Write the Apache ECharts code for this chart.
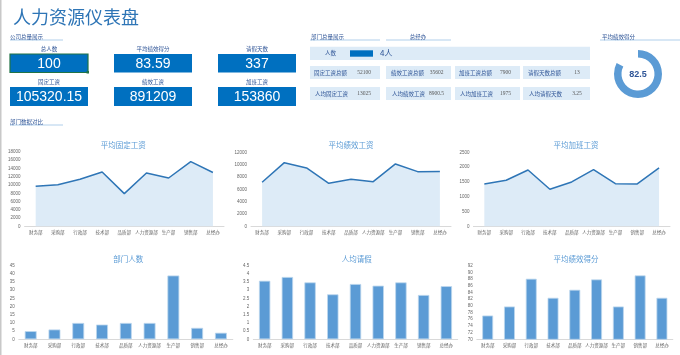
<!DOCTYPE html>
<html><head><meta charset="utf-8">
<script src="https://cdn.jsdelivr.net/npm/echarts@6/dist/echarts.min.js"></script>
<style>html,body{margin:0;padding:0;background:#fff}#c{width:680px;height:355px}</style>
</head><body><div id="c"></div>
<script>
const departments = ['财务部','采购部','行政部','技术部','品质部','人力资源部','生产部','销售部','总经办'];
const avgFixedSalary = [9700,10090,11380,13160,7910,12910,11700,15660,13025];
const avgPerfSalary = [7140,10320,9460,6970,7620,7240,10110,8860,8900.5];
const avgOvertimePay = [1430,1554,1903,1250,1498,1914,1441,1430,1975];
const deptHeadcount = [5,6,10,9,10,10,39,7,4];
const avgLeaveDays = [3.58,3.81,3.48,2.75,3.38,3.28,3.48,2.71,3.25];
const avgPerfScore = [77.1,79.8,88.1,82.4,84.8,87.9,79.8,89.1,82.4];
const chartTitles = ['平均固定工资','平均绩效工资','平均加班工资','部门人数','人均请假','平均绩效得分'];
const kpiLabels = ['总人数','平均绩效得分','请假天数','固定工资','绩效工资','加班工资'];
const kpiValues = ['100','83.59','337','105320.15','891209','153860'];
const selectedDept = '总经办';
const deptCount = [4];
const deptTotalLabels = ['固定工资总额','绩效工资总额','加班工资总额','请假天数总额'];
const deptTotalValues = ['52100','35602','7900','13'];
const deptAvgLabels = ['人均固定工资','人均绩效工资','人均加班工资','人均请假天数'];
const deptAvgValues = ['13025','8900.5','1975','3.25'];
const gaugeScore = [82.5];

const CJK = "'Noto Sans CJK SC', sans-serif";
const NUM = "'Liberation Sans', Arial, sans-serif";
const darkBlue = '#2F5597';
const g = [];
function T(x,y,s,font,fill,align){g.push({type:'text',x:x,y:y,z:10,style:{text:s,font:font,fill:fill,align:align||'left',verticalAlign:'middle'}});}
function R(x,y,w,h,fill,stroke,lw){g.push({type:'rect',z:1,shape:{x:x,y:y,width:w,height:h},style:{fill:fill,stroke:stroke||null,lineWidth:lw||0}});}
function L(x1,y1,x2,y2,c,w){g.push({type:'line',z:2,shape:{x1:x1,y1:y1,x2:x2,y2:y2},style:{stroke:c,lineWidth:w||1}});}

// frame
R(0,0,1.5,355,'#c8c8c8');
// title
T(13,17,'人力资源仪表盘','18px '+CJK,'#2E75B6');
// section headers
T(10,36.5,'公司总量展示','5.5px '+CJK,darkBlue); L(10,40,63,40,'#9DC3E6',0.8);
T(311,36.5,'部门总量展示','5.5px '+CJK,darkBlue); L(310,40,380,40,'#9DC3E6',0.8);
T(418,37,selectedDept,'5.5px '+CJK,darkBlue,'center'); L(386,40,451,40,'#9DC3E6',0.8);
T(602,37,'平均绩效得分','5.5px '+CJK,darkBlue); L(600,40,680,40,'#9DC3E6',0.8);
T(10,121.5,'部门数据对比','5.5px '+CJK,darkBlue); L(10,125,63,125,'#9DC3E6',0.8);

// KPI boxes
const boxX = [10,114,218];
const rowY = [[49.3,54,18.5],[81.7,87,19]];
for(let i=0;i<6;i++){
  const c=i%3, r=Math.floor(i/3);
  const bx=boxX[c], by=rowY[r][1], bh=rowY[r][2];
  T(bx+39,rowY[r][0],kpiLabels[i],'5.5px '+CJK,darkBlue,'center');
  if(i===0){R(bx,by,78,bh,'#0070C0','#217346',1.2);R(bx+76.5,by+bh-1.5,2.5,2.5,'#217346');}
  else R(bx,by,78,bh,'#0070C0');
  T(bx+39,by+bh/2+0.5,kpiValues[i],'14px '+NUM,'#ffffff','center');
}

// department band
R(310,46.7,280,13.3,'#DDEBF7');
T(325,53,'人数','5.5px '+CJK,darkBlue);
T(380,53,deptCount[0]+'人','8px '+CJK,darkBlue);
const dbx=[[310,70,314,364],[386,65,391,436.5],[455,65,459,505.5],[523,67,528,577]];
for(let i=0;i<4;i++){
  R(dbx[i][0],66,dbx[i][1],13,'#DDEBF7');
  T(dbx[i][2],72.5,deptTotalLabels[i],'5.5px '+CJK,darkBlue);
  T(dbx[i][3],72.5,deptTotalValues[i],'5.5px '+"'Liberation Serif', serif",'#595959','center');
  R(dbx[i][0],87,dbx[i][1],13,'#DDEBF7');
  T(dbx[i][2]+1,93.5,deptAvgLabels[i],'5.5px '+CJK,darkBlue);
  T(dbx[i][3],93.5,deptAvgValues[i],'5.5px '+"'Liberation Serif', serif",'#595959','center');
}
// gauge text
T(638,74.5,String(gaugeScore[0]),'bold 9px '+NUM,darkBlue,'center');

// charts
const grids = [
  {left:24.6,top:152,width:199.4,height:74.3},
  {left:251,top:152.3,width:200,height:74},
  {left:473.4,top:152.3,width:196.6,height:74},
  {left:18.8,top:265.7,width:214,height:73.6},
  {left:253.3,top:265.7,width:204.4,height:73.6},
  {left:476.8,top:265.7,width:196,height:73.6},
  {left:350,top:50.3,width:23,height:6.4}
];
const yRanges = [[0,18000,2000],[0,12000,2000],[0,2500,500],[0,45,5],[0,4.5,0.5],[70,92,2]];
const titlePos = [[118.3,141.5],[346,141.5],[571,141.5],[123.3,255.3],[351.7,255.5],[571,255.3]];
const lineData = [avgFixedSalary,avgPerfSalary,avgOvertimePay];
const barData = [deptHeadcount,avgLeaveDays,avgPerfScore];

const xAxis=[], yAxis=[], series=[], title=[];
for(let i=0;i<6;i++){
  xAxis.push({type:'category',gridIndex:i,data:departments,boundaryGap:true,
    axisLine:{lineStyle:{color:'#D9D9D9',width:1}},axisTick:{show:false},
    axisLabel:{fontSize:4.5,color:'#666',margin:3.5,interval:0,fontFamily:CJK}});
  yAxis.push({type:'value',gridIndex:i,min:yRanges[i][0],max:yRanges[i][1],interval:yRanges[i][2],
    axisLine:{show:false},axisTick:{show:false},splitLine:{show:false},
    axisLabel:{fontSize:4.5,color:'#666',margin:4,fontFamily:NUM,formatter:function(v){return String(v);}}});
  title.push({text:chartTitles[i],left:titlePos[i][0],top:titlePos[i][1]-5,textAlign:'center',
    textStyle:{fontSize:7.5,color:'#5B9BD5',fontWeight:'normal',fontFamily:CJK}});
}
for(let i=0;i<3;i++){
  series.push({type:'line',xAxisIndex:i,yAxisIndex:i,data:lineData[i],symbol:'none',
    lineStyle:{color:'#2E75B6',width:1.5},areaStyle:{color:'#DDEBF7',opacity:1},silent:true});
}
for(let i=0;i<3;i++){
  series.push({type:'bar',xAxisIndex:i+3,yAxisIndex:i+3,data:barData[i],barWidth:'50%',
    itemStyle:{color:'#5B9BD5',borderColor:'#BDD7EE',borderWidth:0.8},silent:true});
}
// data bar for 人数
xAxis.push({type:'value',gridIndex:6,min:0,max:4,show:false});
yAxis.push({type:'category',gridIndex:6,data:['人数'],show:false});
series.push({type:'bar',xAxisIndex:6,yAxisIndex:6,data:deptCount,barWidth:6.4,itemStyle:{color:'#0070C0'},silent:true});
// donut
series.push({type:'pie',center:[638,74],radius:[16.5,24],startAngle:90,clockwise:true,silent:true,
  label:{show:false},labelLine:{show:false},
  data:[{value:gaugeScore[0],itemStyle:{color:'#5B9BD5'}},{value:100-gaugeScore[0],itemStyle:{color:'rgba(0,0,0,0)'}}]});

const chart = echarts.init(document.getElementById('c'),null,{renderer:'canvas'});
chart.setOption({animation:false,backgroundColor:'#fff',title:title,grid:grids,xAxis:xAxis,yAxis:yAxis,series:series,graphic:{elements:g}});
</script></body></html>
